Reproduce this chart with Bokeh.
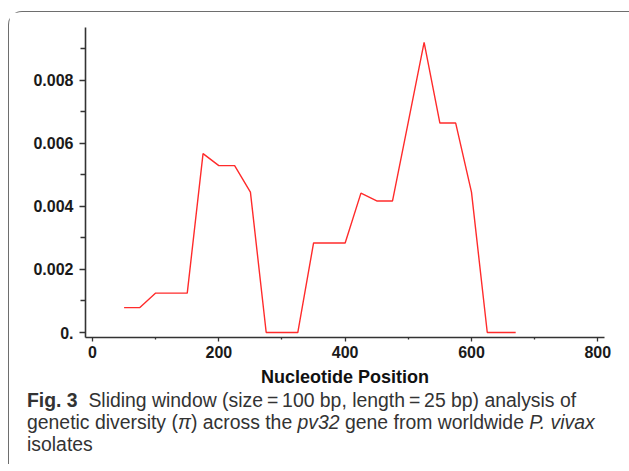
from bokeh.plotting import figure
from bokeh.models import FixedTicker, Div, Range1d
from bokeh.layouts import column
from bokeh.embed import file_html
from bokeh.resources import INLINE

# Data (window midpoint vs nucleotide diversity pi)
position = [50, 75, 100, 125, 150, 175, 200, 225, 250, 275, 300, 325, 350,
            375, 400, 425, 450, 475, 500, 525, 550, 575, 600, 625, 650, 670]
pi_values = [0.00079, 0.00079, 0.00125, 0.00125, 0.00125, 0.00567, 0.00529,
             0.00529, 0.00445, 0.0, 0.0, 0.0, 0.00284, 0.00284, 0.00284,
             0.00442, 0.00417, 0.00417, 0.00668, 0.00920, 0.00664, 0.00664,
             0.00445, 0.0, 0.0, 0.0]

x_ticks = [0, 200, 400, 600, 800]
x_minor_ticks = [100, 300, 500, 700]
y_ticks = [0.0, 0.002, 0.004, 0.006, 0.008]
y_minor_ticks = [0.001, 0.003, 0.005, 0.007, 0.009]
y_tick_labels = ["0.", "0.002", "0.004", "0.006", "0.008"]
x_label = "Nucleotide Position"

p = figure(width=620, height=385, output_backend="svg", toolbar_location=None,
           x_range=Range1d(-11.1, 810.6), y_range=Range1d(-0.000158, 0.00967),
           min_border_left=76, min_border_right=25, min_border_top=15,
           min_border_bottom=60)
p.outline_line_color = None
p.xgrid.visible = False
p.ygrid.visible = False
p.background_fill_color = "white"
p.border_fill_color = "white"

p.line(position, pi_values, line_color="#ff2b2b", line_width=1.4)

p.xaxis.ticker = FixedTicker(ticks=x_ticks, minor_ticks=x_minor_ticks)
p.yaxis.ticker = FixedTicker(ticks=y_ticks, minor_ticks=y_minor_ticks)
p.yaxis.major_label_overrides = {v: s for v, s in zip(y_ticks, y_tick_labels)}
p.xaxis.major_label_overrides = {v: str(v) for v in x_ticks}

for ax in (p.xaxis[0], p.yaxis[0]):
    ax.axis_line_color = "#333333"
    ax.axis_line_width = 1.6
    ax.major_tick_line_color = "#333333"
    ax.minor_tick_line_color = "#333333"
    ax.major_tick_line_width = 1.3
    ax.minor_tick_line_width = 1.3
    ax.major_tick_in = 0
    ax.minor_tick_in = 0
    ax.major_label_text_font = "Liberation Sans"
    ax.major_label_text_font_style = "bold"
    ax.major_label_text_font_size = "16px"
    ax.major_label_text_color = "#1a1a1a"

p.yaxis.major_tick_out = 6
p.yaxis.minor_tick_out = 5
p.yaxis.major_label_standoff = 6
p.xaxis.major_tick_out = 4
p.xaxis.minor_tick_out = 2
p.xaxis.major_label_standoff = 4

p.xaxis.axis_label = x_label
p.xaxis.axis_label_text_font = "Liberation Sans"
p.xaxis.axis_label_text_font_style = "bold"
p.xaxis.axis_label_text_font_size = "18px"
p.xaxis.axis_label_text_color = "#111111"
p.xaxis.axis_label_standoff = 6

caption = Div(
    text=("<b>Fig. 3</b>&nbsp;&nbsp;Sliding window (size\u2009=\u2009100 bp, length\u2009=\u200925 bp) analysis of<br>"
          "genetic diversity (<i>\u03c0</i>) across the <i>pv32</i> gene from worldwide <i>P. vivax</i><br>"
          "isolates"),
    width=620, height=70,
    styles={"font-family": "Liberation Sans", "font-size": "19.4px", "line-height": "22px",
            "color": "#333333", "padding-left": "13px", "box-sizing": "border-box",
            "margin-top": "-8px"})

layout = column(p, caption, styles={"border-left": "1px solid #6e6e6e",
                                    "border-top": "1px solid #6e6e6e",
                                    "border-top-left-radius": "14px",
                                    "margin-top": "11px",
                                    "margin-left": "8px"})

open("out.html", "w").write(file_html(layout, INLINE))
